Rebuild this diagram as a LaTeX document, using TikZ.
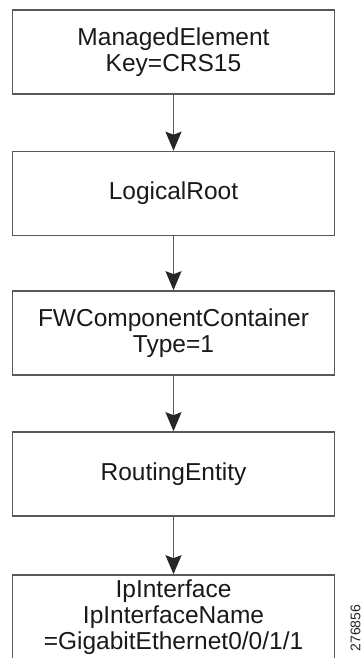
\documentclass[tikz,border=0pt]{standalone}
\usepackage{fontspec}
\setmainfont{Liberation Sans}
\usetikzlibrary{arrows.meta}

\tikzset{
    objbox/.style={draw=black!65, line width=1.6pt, minimum width=322pt, minimum height=84pt,
        align=center, inner sep=2pt, text=black!90, font=\fontsize{24.5}{26}\selectfont},
    link/.style={draw=black!65, line width=1.6pt,
        -{Stealth[length=19pt,width=16pt,inset=3pt,color=black!85]}}
}

\begin{document}
\begin{tikzpicture}[x=1pt,y=-1pt]
    \useasboundingbox (0,0) rectangle (362,658);

    \node[objbox] (managed) at (173.5,52) {ManagedElement\\Key=CRS15};
    \node[objbox] (root) at (173.5,193.5) {LogicalRoot};
    \node[objbox] (fwcont) at (173.5,333) {FWComponentContainer\\Type=1};
    \node[objbox] (routing) at (173.5,474) {RoutingEntity};
    \node[objbox] (ipif) at (173.5,617) {IpInterface\\IpInterfaceName\\=GigabitEthernet0/0/1/1};

    \draw[link] (managed) -- (root);
    \draw[link] (root) -- (fwcont);
    \draw[link] (fwcont) -- (routing);
    \draw[link] (routing) -- (ipif);

    \node[rotate=90, font=\fontsize{14}{14}\selectfont, text=black!85] (figid) at (355.5,628) {276856};
\end{tikzpicture}
\end{document}
